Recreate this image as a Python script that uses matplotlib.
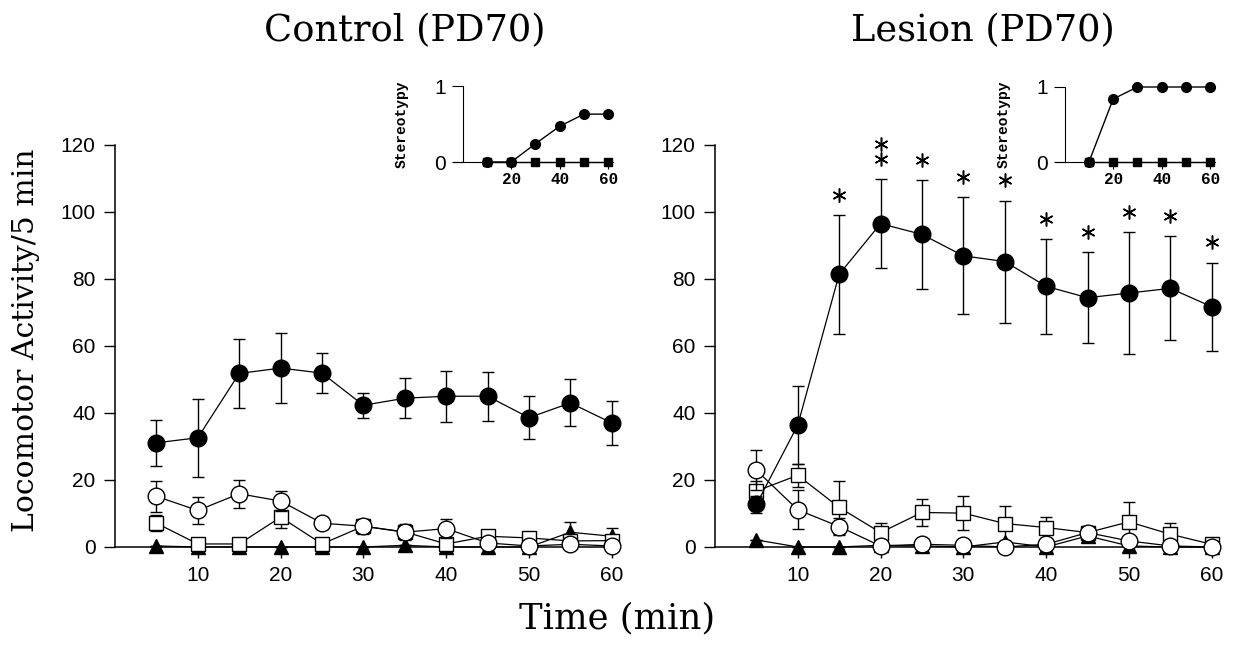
import matplotlib
matplotlib.use("Agg")
import matplotlib.pyplot as plt

# ── DATA ──────────────────────────────────────────────────────
time_min = [5, 10, 15, 20, 25, 30, 35, 40, 45, 50, 55, 60]

# Control (PD70)
ctrl_filled = [31.1, 32.6, 51.8, 53.4, 51.9, 42.3, 44.4, 45.0, 45.0, 38.6, 43.0, 37.0]
ctrl_filled_err = [6.8, 11.7, 10.2, 10.4, 5.9, 3.8, 6.0, 7.6, 7.3, 6.4, 7.0, 6.7]
ctrl_open = [15.1, 10.9, 15.9, 13.7, 7.1, 6.2, 4.4, 5.5, 1.2, 0.3, 0.8, 0.3]
ctrl_open_err = [4.6, 3.9, 4.2, 3.0, 1.8, 1.8, 2.4, 2.8, 0, 0, 0, 0]
ctrl_square = [7.1, 0.9, 0.9, 8.9, 0.9, 6.2, 4.5, 0.9, 3.2, 2.7, 1.8, 1.9]
ctrl_square_err = [2.4, 0, 0, 3.2, 0, 2.2, 2.2, 0, 0, 0, 0, 0]
ctrl_tri = [0.3, 0, 0, 0, 0, 0, 0.5, 0, 0, 0, 4.4, 3.2]
ctrl_tri_err = [0, 0, 0, 0, 0, 0, 0, 0, 0, 0, 3.2, 2.5]

# Lesion (PD70)
les_filled = [12.7, 36.4, 81.4, 96.5, 93.3, 86.9, 85.2, 77.8, 74.4, 75.8, 77.2, 71.7]
les_filled_err = [2.5, 11.6, 17.7, 13.3, 16.3, 17.5, 18.2, 14.1, 13.5, 18.3, 15.5, 13.2]
les_open = [22.9, 11.1, 6.1, 0.3, 0.8, 0.5, 0, 0.8, 4.3, 1.8, 0.3, 0]
les_open_err = [6.0, 5.8, 2.5, 0, 0, 0, 0, 0, 0, 0, 0, 0]
les_square = [16.7, 21.4, 11.8, 4.3, 10.3, 10.1, 7.0, 5.8, 4.3, 7.5, 3.8, 0.8]
les_square_err = [3.0, 3.5, 8.0, 3.0, 4.0, 5.0, 5.3, 3.0, 2.0, 5.8, 3.3, 0]
les_tri = [2.1, 0, 0, 0.5, 0.3, 0, 1.5, 0, 3.3, 0.3, 0, 0]
les_stars = [0, 0, 1, 2, 1, 1, 1, 1, 1, 1, 1, 1]

# Stereotypy insets
stereo_time = [10, 20, 30, 40, 50, 60]
ctrl_stereo = [0, 0, 0.24, 0.47, 0.63, 0.63]
ctrl_stereo_base = [0, 0, 0, 0, 0, 0]
les_stereo = [0, 0.84, 1, 1, 1, 1]
les_stereo_base = [0, 0, 0, 0, 0, 0]

x_ticks = [10, 20, 30, 40, 50, 60]
y_ticks = [0, 20, 40, 60, 80, 100, 120]

SERIF = "DejaVu Serif"
SANS = "Liberation Sans"
MONO = "Liberation Mono"

fig = plt.figure(figsize=(12.34, 6.48), dpi=100)


def main_panel(rect, series, stars=None):
    ax = fig.add_axes(rect)
    for y, err, kw in series:
        ax.errorbar(time_min, y, yerr=err, color="black", lw=0.9,
                    elinewidth=1.0, capsize=4, capthick=1.0,
                    clip_on=False, **kw)
    ax.set_xlim(0, 61)
    ax.set_ylim(0, 120)
    ax.set_xticks(x_ticks)
    ax.set_yticks(y_ticks)
    for s in ("top", "right"):
        ax.spines[s].set_visible(False)
    for s in ("left", "bottom"):
        ax.spines[s].set_linewidth(1.1)
    ax.tick_params(direction="out", length=8, width=1.0, labelsize=15, pad=6)
    for lab in ax.get_xticklabels() + ax.get_yticklabels():
        lab.set_fontfamily(SANS)
    if stars is not None:
        top, err, counts = stars
        for t, m, e, n in zip(time_min, top, err, counts):
            for k in range(n):
                ax.plot(t, m + e + 6 + k * 4.5, marker=(6, 2, 0), ms=10,
                        mew=1.1, color="black", clip_on=False)
    return ax


def series_list(filled, filled_err, opn, opn_err, sq, sq_err, tri, tri_err):
    return [
        (tri, tri_err, dict(marker="^", ms=10, mfc="black", mec="black", zorder=3)),
        (sq, sq_err, dict(marker="s", ms=10, mfc="white", mec="black", mew=1.0, zorder=4)),
        (opn, opn_err, dict(marker="o", ms=12, mfc="white", mec="black", mew=1.0, zorder=5)),
        (filled, filled_err, dict(marker="o", ms=12, mfc="black", mec="black", zorder=6)),
    ]


ax1 = main_panel([0.0932, 0.1559, 0.4093, 0.6204],
                 series_list(ctrl_filled, ctrl_filled_err, ctrl_open, ctrl_open_err,
                             ctrl_square, ctrl_square_err, ctrl_tri, ctrl_tri_err))
ax2 = main_panel([0.5794, 0.1559, 0.4093, 0.6204],
                 series_list(les_filled, les_filled_err, les_open, les_open_err,
                             les_square, les_square_err, les_tri, [0] * 12),
                 stars=(les_filled, les_filled_err, les_stars))

fig.text(405 / 1234, 0.952, "Control (PD70)", ha="center", va="center",
         fontfamily=SERIF, fontsize=26.5)
fig.text(983 / 1234, 0.952, "Lesion (PD70)", ha="center", va="center",
         fontfamily=SERIF, fontsize=26.5)
fig.text(0.021, 0.475, "Locomotor Activity/5 min", rotation=90, ha="center",
         va="center", fontfamily=SERIF, fontsize=21.5)
fig.text(0.5, 0.045, "Time (min)", ha="center", va="center",
         fontfamily=SERIF, fontsize=25.5)


def inset(rect, y, base):
    ax = fig.add_axes(rect)
    ax.plot(stereo_time, base, color="black", lw=1.0, marker="s", ms=6,
            clip_on=False, zorder=3)
    ax.plot(stereo_time, y, color="black", lw=1.0, marker="o", ms=7,
            clip_on=False, zorder=4)
    ax.set_xlim(-4, 62)
    ax.set_ylim(0, 1)
    ax.spines["left"].set_position(("data", 0))
    for s in ("top", "right"):
        ax.spines[s].set_visible(False)
    ax.set_xticks([20, 40, 60])
    ax.set_yticks([0, 1])
    ax.tick_params(axis="y", direction="out", length=8, labelsize=15, pad=4)
    ax.tick_params(axis="x", direction="out", length=5, labelsize=11.5, pad=2)
    for lab in ax.get_yticklabels():
        lab.set_fontfamily(SANS)
    for lab in ax.get_xticklabels():
        lab.set_fontfamily(MONO)
        lab.set_fontweight("bold")
    ax.set_ylabel("Stereotypy", fontfamily=MONO, fontweight="bold", fontsize=10.5)
    ax.yaxis.set_label_coords(-0.34 + 4 / 66, 0.5)
    return ax


inset([453 / 1234, 0.75, 160 / 1234, 76 / 648], ctrl_stereo, ctrl_stereo_base)
inset([1055 / 1234, 0.75, 160 / 1234, 75 / 648], les_stereo, les_stereo_base)

fig.savefig("out.png", dpi=100)
